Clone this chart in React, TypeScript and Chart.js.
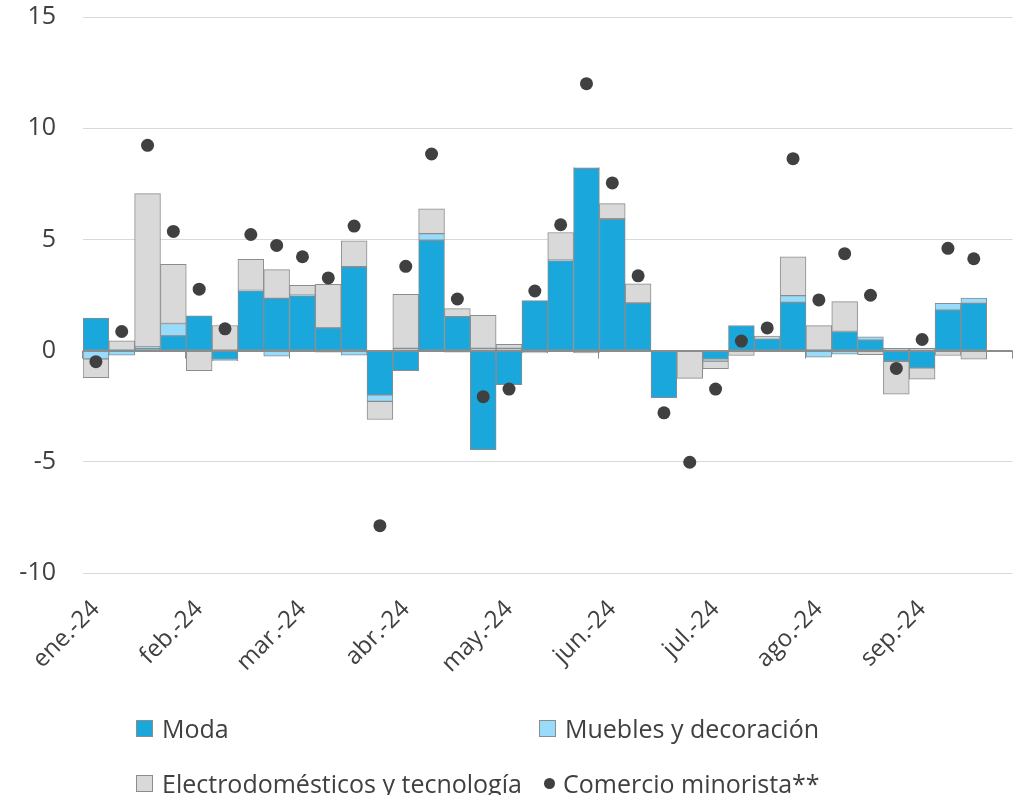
import React, { useEffect, useRef } from 'react';
import { Chart, registerables } from 'chart.js';

Chart.register(...registerables);

// Month tick labels (one every 4 weekly categories)
const monthLabels = ['ene.-24', 'feb.-24', 'mar.-24', 'abr.-24', 'may.-24', 'jun.-24', 'jul.-24', 'ago.-24', 'sep.-24'];
const weeksPerMonth = 4;
const categories: string[] = monthLabels.flatMap((m) => [m, '', '', '']);

const seriesNames = ['Moda', 'Muebles y decoración', 'Electrodomésticos y tecnología', 'Comercio minorista**'];

const moda = [
  1.46, 0.02, 0.1, 0.66, 1.56, -0.4, 2.68, 2.35, 2.46, 1.02, 3.77, -1.99,
  -0.9, 4.96, 1.53, -4.45, -1.53, 2.25, 4.04, 8.2, 5.9, 2.13, -2.12, -0.02,
  -0.37, 1.13, 0.52, 2.17, 0.02, 0.86, 0.47, -0.48, -0.78, 1.82, 2.12, null,
];
const muebles = [
  -0.37, -0.2, 0.06, 0.56, 0, -0.05, 0.03, -0.25, 0.03, -0.07, -0.2, -0.29,
  0.1, 0.3, -0.07, 0.1, 0.1, -0.03, 0.03, 0.03, 0.03, 0.03, 0, 0,
  -0.1, 0, 0.03, 0.3, -0.29, -0.16, 0.15, 0.1, 0.1, 0.3, 0.24, null,
];
const electro = [
  -0.85, 0.42, 6.9, 2.66, -0.9, 1.13, 1.39, 1.29, 0.45, 1.96, 1.17, -0.82,
  2.43, 1.11, 0.36, 1.49, 0.18, -0.07, 1.24, -0.1, 0.68, 0.84, 0, -1.23,
  -0.34, -0.22, 0.1, 1.75, 1.1, 1.34, -0.18, -1.48, -0.51, -0.22, -0.39, null,
];
const comercio = [
  -0.5, 0.86, 9.23, 5.36, 2.76, 0.98, 5.22, 4.73, 4.22, 3.27, 5.6, -7.87,
  3.79, 8.84, 2.32, -2.07, -1.73, 2.68, 5.66, 12.0, 7.54, 3.36, -2.8, -5.02,
  -1.73, 0.43, 1.02, 8.63, 2.28, 4.36, 2.49, -0.8, 0.5, 4.6, 4.13, null,
];

const yMin = -10;
const yMax = 15;
const yStep = 5;

const COLORS = {
  moda: '#1aa7db',
  muebles: '#99dbfa',
  electro: '#d9d9d9',
  comercio: '#404040',
  border: '#8c8c8c',
  grid: '#d9d9d9',
  text: '#404040',
};

const FONT = "'Open Sans', 'DejaVu Sans', sans-serif";

const zeroAxisTicks = {
  id: 'zeroAxisTicks',
  afterDatasetsDraw(chart: any) {
    const x = chart.scales.x;
    const y = chart.scales.y;
    const ctx = chart.ctx;
    const y0 = y.getPixelForValue(0);
    const half = (x.getPixelForValue(1) - x.getPixelForValue(0)) / 2;
    ctx.save();
    ctx.strokeStyle = COLORS.border;
    ctx.lineWidth = 1;
    ctx.beginPath();
    ctx.moveTo(x.getPixelForValue(0) - half, Math.round(y0) + 0.5);
    ctx.lineTo(x.getPixelForValue(categories.length - 1) + half, Math.round(y0) + 0.5);
    ctx.stroke();
    for (let i = 0; i <= categories.length; i += weeksPerMonth) {
      const px = Math.round(x.getPixelForValue(i) - half) - 0.5;
      ctx.beginPath();
      ctx.moveTo(px, y0);
      ctx.lineTo(px, y0 + 8);
      ctx.stroke();
    }
    ctx.restore();
  },
};

export default function App() {
  const canvasRef = useRef<HTMLCanvasElement | null>(null);

  useEffect(() => {
    if (!canvasRef.current) return;
    const barCommon = {
      type: 'bar' as const,
      borderColor: COLORS.border,
      borderWidth: 1,
      borderSkipped: false,
      categoryPercentage: 1,
      barPercentage: 1,
    };
    const chart = new Chart(canvasRef.current, {
      type: 'bar',
      data: {
        labels: categories,
        datasets: [
          {
            type: 'line',
            label: seriesNames[3],
            data: comercio,
            showLine: false,
            pointRadius: 6.5,
            pointHoverRadius: 6.5,
            pointBackgroundColor: COLORS.comercio,
            pointBorderWidth: 0,
            borderColor: COLORS.comercio,
            order: 0,
          } as any,
          { ...barCommon, label: seriesNames[0], data: moda, backgroundColor: COLORS.moda, order: 1 },
          { ...barCommon, label: seriesNames[1], data: muebles, backgroundColor: COLORS.muebles, order: 2 },
          { ...barCommon, label: seriesNames[2], data: electro, backgroundColor: COLORS.electro, order: 3 },
        ],
      },
      options: {
        animation: false,
        responsive: false,
        maintainAspectRatio: false,
        layout: { padding: { top: 17, right: 2, left: 0, bottom: 0 } },
        plugins: {
          legend: { display: false },
          tooltip: { enabled: false },
        },
        scales: {
          x: {
            stacked: true,
            offset: true,
            grid: { display: false },
            border: { display: false },
            ticks: {
              autoSkip: false,
              maxRotation: 45,
              minRotation: 45,
              padding: 14,
              color: COLORS.text,
              font: { family: FONT, size: 24 },
            },
            afterFit(scale: any) {
              scale.height = 222;
              scale.paddingLeft = 0;
              scale.paddingRight = 0;
            },
          },
          y: {
            stacked: true,
            min: yMin,
            max: yMax,
            grid: {
              drawTicks: false,
              color: (ctx: any) => (ctx.tick && ctx.tick.value === 0 ? COLORS.border : COLORS.grid),
              lineWidth: 1,
            },
            border: { display: false },
            ticks: {
              stepSize: yStep,
              padding: 27,
              color: COLORS.text,
              font: { family: FONT, size: 25 },
            },
            afterFit(scale: any) {
              scale.width = 83;
              scale.paddingTop = 0;
              scale.paddingBottom = 0;
            },
          },
        },
      },
      plugins: [zeroAxisTicks],
    });
    return () => chart.destroy();
  }, []);

  const textStyle: React.CSSProperties = {
    fontFamily: FONT,
    fontSize: 25,
    color: COLORS.text,
    whiteSpace: 'nowrap',
    lineHeight: '34px',
  };
  const boxStyle = (bg: string): React.CSSProperties => ({
    width: 17,
    height: 17,
    boxSizing: 'border-box',
    background: bg,
    border: `1px solid ${COLORS.border}`,
    marginRight: 9,
  });
  const item = (left: number, centerY: number, marker: React.ReactNode, label: string) => (
    <div
      style={{
        position: 'absolute',
        left,
        top: centerY - 17,
        height: 34,
        display: 'flex',
        alignItems: 'center',
      }}
    >
      {marker}
      <span style={textStyle}>{label}</span>
    </div>
  );

  return (
    <div style={{ position: 'absolute', left: 0, top: 0, width: 1019, height: 795, background: '#fff', overflow: 'hidden' }}>
      <canvas ref={canvasRef} width={1019} height={795} style={{ position: 'absolute', left: 0, top: 0 }} />
      {item(136, 728, <div style={boxStyle(COLORS.moda)} />, seriesNames[0])}
      {item(539, 728, <div style={boxStyle(COLORS.muebles)} />, seriesNames[1])}
      {item(136, 783, <div style={boxStyle(COLORS.electro)} />, seriesNames[2])}
      {item(
        544,
        783,
        <div style={{ width: 11, height: 11, borderRadius: '50%', background: COLORS.comercio, marginRight: 8 }} />,
        seriesNames[3]
      )}
    </div>
  );
}
